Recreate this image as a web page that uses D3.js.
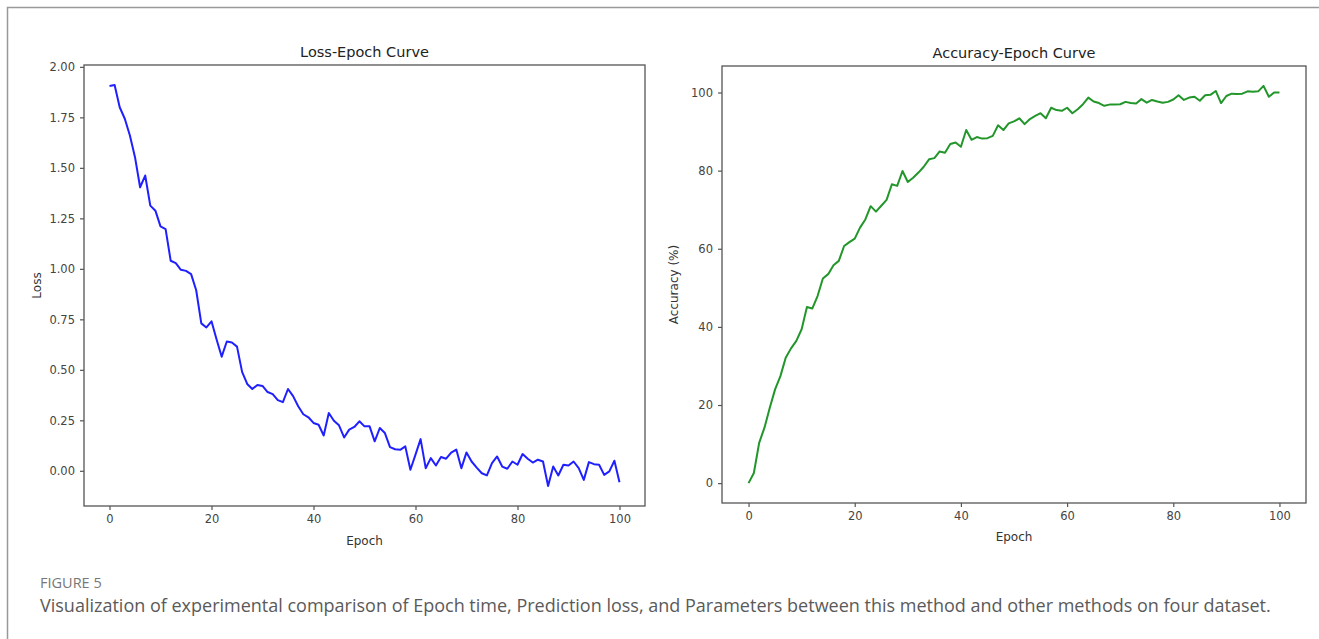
<!DOCTYPE html>
<html>
<head>
<meta charset="utf-8">
<script src="https://cdn.jsdelivr.net/npm/d3@7"></script>
<style>
body { margin: 0; background: #fff; }
svg text { font-family: "DejaVu Sans", sans-serif; }
</style>
</head>
<body>
<div id="fig"></div>
<script>
// ---- data ----
var epochs = d3.range(0, 101);

var loss = [1.905, 1.91, 1.80, 1.743, 1.66, 1.553, 1.404, 1.462, 1.313, 1.288,
            1.21, 1.197, 1.04, 1.028, 0.995, 0.99, 0.974, 0.894, 0.73, 0.71,
            0.74, 0.65, 0.565, 0.64, 0.635, 0.615, 0.49, 0.43, 0.405, 0.425,
            0.42, 0.39, 0.38, 0.35, 0.34, 0.405, 0.37, 0.32, 0.28, 0.265,
            0.237, 0.228, 0.175, 0.286, 0.248, 0.225, 0.165, 0.204, 0.217, 0.245,
            0.22, 0.22, 0.146, 0.212, 0.187, 0.117, 0.107, 0.104, 0.121, 0.005,
            0.08, 0.157, 0.013, 0.063, 0.026, 0.068, 0.06, 0.09, 0.105, 0.013,
            0.091, 0.046, 0.016, -0.012, -0.023, 0.038, 0.071, 0.021, 0.01, 0.046,
            0.03, 0.083, 0.06, 0.041, 0.055, 0.046, -0.075, 0.021, -0.023, 0.03,
            0.026, 0.046, 0.013, -0.045, 0.043, 0.033, 0.03, -0.02, -0.003, 0.05,
            -0.057];

var accuracy = [0, 2.6, 10.3, 14.2, 19.3, 24, 27.4, 32.1, 34.5, 36.4,
                39.4, 45.1, 44.7, 47.9, 52.4, 53.5, 55.8, 56.9, 60.7, 61.7,
                62.6, 65.4, 67.5, 70.9, 69.5, 71, 72.5, 76.5, 76.1, 79.9,
                77.1, 78.2, 79.5, 81, 82.9, 83.2, 84.9, 84.6, 86.8, 87.2,
                86.1, 90.4, 87.9, 88.6, 88.2, 88.3, 88.9, 91.6, 90.4, 92.1,
                92.6, 93.4, 91.9, 93.2, 94, 94.7, 93.4, 96.1, 95.5, 95.3,
                96.1, 94.7, 95.7, 97, 98.7, 97.7, 97.3, 96.6, 96.9, 96.9,
                97, 97.6, 97.3, 97.2, 98.3, 97.4, 98.1, 97.7, 97.4, 97.6,
                98.2, 99.3, 98.1, 98.7, 98.9, 97.9, 99.3, 99.4, 100.4, 97.3,
                99.1, 99.7, 99.6, 99.7, 100.3, 100.2, 100.3, 101.7, 98.9, 100,
                100];

var xTicks = [0, 20, 40, 60, 80, 100];
var lossTicks = [0, 0.25, 0.5, 0.75, 1.0, 1.25, 1.5, 1.75, 2.0];
var accTicks = [0, 20, 40, 60, 80, 100];

var figLabel = "FIGURE 5";
var caption = "Visualization of experimental comparison of Epoch time, Prediction loss, and Parameters between this method and other methods on four dataset.";

// ---- drawing ----
var W = 1319, H = 639;
var svg = d3.select("#fig").append("svg")
    .attr("width", W).attr("height", H);

// outer frame (left + top)
svg.append("path")
    .attr("d", "M7.5," + H + "V7.5H" + W)
    .attr("fill", "none")
    .attr("stroke", "#999")
    .attr("stroke-width", 1.5);

// matplotlib-like 5% margins
function padded(vals, m) {
    var e = d3.extent(vals), r = e[1] - e[0];
    return [e[0] - r * m, e[1] + r * m];
}

function panel(opt) {
    var g = svg.append("g").attr("transform", "translate(" + opt.left + "," + opt.top + ")");
    var w = opt.width, h = opt.height;

    var x = d3.scaleLinear().domain(padded(epochs, 0.05)).range([0, w]);
    var y = d3.scaleLinear().domain(padded(opt.values, 0.05)).range([h, 0]);

    var xAxis = g.append("g")
        .attr("transform", "translate(0," + h + ")")
        .call(d3.axisBottom(x).tickValues(xTicks).tickSize(4).tickPadding(5).tickSizeOuter(0));
    var yAxis = g.append("g")
        .call(d3.axisLeft(y).tickValues(opt.ticks).tickFormat(opt.fmt).tickSize(4).tickPadding(5).tickSizeOuter(0));

    [xAxis, yAxis].forEach(function (a) {
        a.select(".domain").remove();
        a.selectAll(".tick line").attr("stroke", "#555").attr("stroke-width", 1.2);
        a.selectAll(".tick text").attr("fill", "#444").style("font-size", "11.5px");
    });

    g.append("path")
        .datum(opt.values)
        .attr("fill", "none")
        .attr("stroke", opt.color)
        .attr("stroke-width", 2)
        .attr("stroke-linejoin", "round")
        .attr("d", d3.line().x(function (d, i) { return x(epochs[i]); }).y(function (d) { return y(d); }));

    g.append("rect")
        .attr("width", w).attr("height", h)
        .attr("fill", "none")
        .attr("stroke", "#555")
        .attr("stroke-width", 1.3);

    g.append("text")
        .attr("x", w / 2).attr("y", -8)
        .attr("text-anchor", "middle")
        .attr("fill", "#222")
        .style("font-size", "14.5px")
        .text(opt.title);

    g.append("text")
        .attr("x", w / 2).attr("y", h + opt.xlabDy)
        .attr("text-anchor", "middle")
        .attr("fill", "#333")
        .style("font-size", "12px")
        .text("Epoch");

    g.append("text")
        .attr("transform", "translate(" + opt.ylabX + "," + (h / 2) + ") rotate(-90)")
        .attr("text-anchor", "middle")
        .attr("fill", "#333")
        .style("font-size", "12px")
        .text(opt.ylabel);
}

panel({
    left: 84, top: 65, width: 561, height: 441,
    values: loss, ticks: lossTicks, fmt: d3.format(".2f"),
    color: "#2020ff", title: "Loss-Epoch Curve",
    ylabel: "Loss", ylabX: -43, xlabDy: 39
});

panel({
    left: 722, top: 66, width: 584, height: 437,
    values: accuracy, ticks: accTicks, fmt: d3.format("d"),
    color: "#22962a", title: "Accuracy-Epoch Curve",
    ylabel: "Accuracy (%)", ylabX: -44, xlabDy: 38
});

svg.append("text")
    .attr("x", 40).attr("y", 588)
    .style("font-family", "'Open Sans', sans-serif")
    .style("font-size", "14.5px")
    .attr("fill", "#777")
    .text(figLabel);

svg.append("text")
    .attr("x", 40).attr("y", 612)
    .style("font-family", "'Open Sans', sans-serif")
    .style("font-size", "18px")
    .attr("fill", "#5a5a5a")
    .text(caption);
</script>
</body>
</html>
